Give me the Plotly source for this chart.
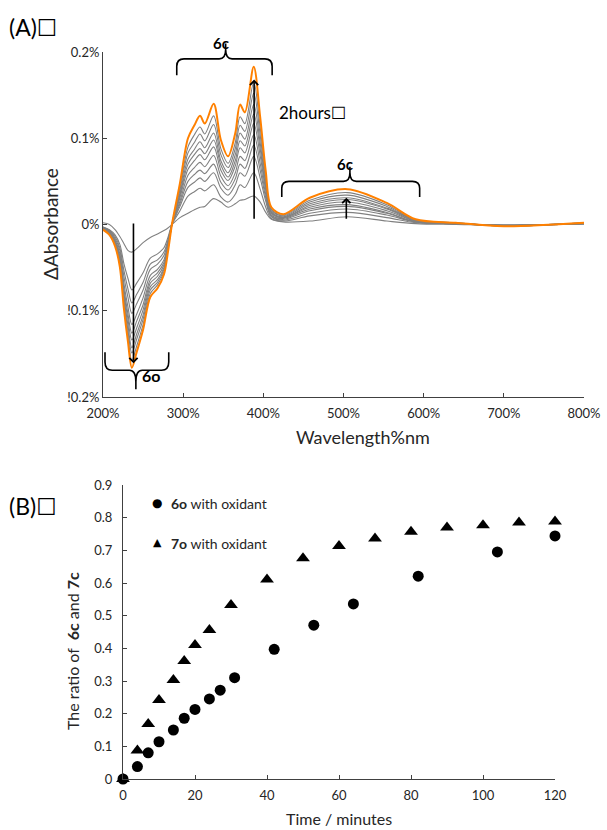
import plotly.graph_objects as go

W, H = 607, 830

# ---------------- Panel A data (difference spectra, 0 -> 2 h) ----------------
wavelength_nm = [200, 208, 215, 221, 226, 231, 236, 242, 250, 259, 268, 276, 281, 286,
                 296, 306, 314, 321, 327, 338, 347, 356, 365, 371, 377, 388, 396, 403,
                 410, 425, 458, 505, 554, 590, 640, 700, 800]

spectra_grey = [
    [0.002, 0.000, -0.006, -0.014, -0.022, -0.030, -0.032, -0.028, -0.021, -0.015, -0.011, -0.007, -0.004, 0.000,
     0.008, 0.013, 0.017, 0.020, 0.021, 0.030, 0.026, 0.020, 0.024, 0.028, 0.029, 0.033, 0.026, 0.014,
     0.006, 0.003, 0.004, 0.009, 0.004, 0.001, 0.000, -0.001, 0.001],
    [-0.003, -0.006, -0.012, -0.023, -0.045, -0.062, -0.076, -0.068, -0.056, -0.039, -0.034, -0.027, -0.015, 0.000,
     0.016, 0.033, 0.038, 0.042, 0.039, 0.046, 0.032, 0.026, 0.035, 0.046, 0.043, 0.060, 0.041, 0.020,
     0.007, 0.004, 0.010, 0.014, 0.008, 0.002, 0.001, -0.001, 0.001],
    [-0.003, -0.007, -0.014, -0.027, -0.053, -0.074, -0.091, -0.081, -0.067, -0.046, -0.041, -0.032, -0.018, 0.000,
     0.021, 0.043, 0.049, 0.054, 0.050, 0.060, 0.042, 0.034, 0.046, 0.060, 0.056, 0.079, 0.054, 0.027,
     0.009, 0.005, 0.013, 0.018, 0.011, 0.003, 0.001, -0.001, 0.001],
    [-0.004, -0.007, -0.016, -0.030, -0.060, -0.084, -0.103, -0.092, -0.076, -0.052, -0.046, -0.036, -0.020, 0.000,
     0.024, 0.050, 0.058, 0.063, 0.059, 0.070, 0.049, 0.040, 0.053, 0.070, 0.065, 0.092, 0.063, 0.031,
     0.010, 0.006, 0.016, 0.021, 0.013, 0.003, 0.001, -0.001, 0.001],
    [-0.004, -0.008, -0.018, -0.034, -0.068, -0.095, -0.116, -0.104, -0.085, -0.059, -0.052, -0.041, -0.022, 0.000,
     0.027, 0.057, 0.066, 0.072, 0.067, 0.080, 0.056, 0.045, 0.060, 0.079, 0.074, 0.104, 0.071, 0.035,
     0.011, 0.007, 0.018, 0.023, 0.014, 0.003, 0.001, -0.001, 0.001],
    [-0.005, -0.009, -0.019, -0.037, -0.074, -0.103, -0.126, -0.112, -0.093, -0.064, -0.056, -0.044, -0.024, 0.000,
     0.031, 0.064, 0.074, 0.081, 0.075, 0.090, 0.063, 0.051, 0.068, 0.089, 0.083, 0.117, 0.080, 0.040,
     0.013, 0.008, 0.020, 0.026, 0.016, 0.004, 0.001, -0.001, 0.001],
    [-0.005, -0.010, -0.020, -0.040, -0.079, -0.109, -0.134, -0.120, -0.099, -0.068, -0.060, -0.047, -0.026, 0.000,
     0.034, 0.070, 0.081, 0.088, 0.082, 0.098, 0.069, 0.055, 0.074, 0.097, 0.091, 0.128, 0.088, 0.043,
     0.014, 0.008, 0.022, 0.029, 0.018, 0.004, 0.001, -0.001, 0.001],
    [-0.005, -0.010, -0.022, -0.042, -0.083, -0.116, -0.143, -0.127, -0.105, -0.072, -0.064, -0.050, -0.028, 0.000,
     0.036, 0.076, 0.087, 0.096, 0.089, 0.106, 0.074, 0.060, 0.081, 0.106, 0.099, 0.139, 0.095, 0.047,
     0.015, 0.009, 0.024, 0.031, 0.019, 0.005, 0.002, -0.002, 0.002],
    [-0.005, -0.011, -0.023, -0.044, -0.087, -0.122, -0.149, -0.133, -0.110, -0.076, -0.067, -0.052, -0.029, 0.000,
     0.040, 0.083, 0.095, 0.105, 0.097, 0.116, 0.081, 0.066, 0.088, 0.115, 0.108, 0.152, 0.104, 0.051,
     0.017, 0.010, 0.026, 0.034, 0.021, 0.005, 0.002, -0.002, 0.002],
    [-0.006, -0.011, -0.024, -0.047, -0.092, -0.128, -0.158, -0.141, -0.116, -0.080, -0.070, -0.055, -0.030, 0.000,
     0.043, 0.090, 0.104, 0.113, 0.105, 0.126, 0.088, 0.071, 0.095, 0.125, 0.117, 0.165, 0.113, 0.056,
     0.018, 0.011, 0.028, 0.037, 0.023, 0.005, 0.002, -0.002, 0.002],
]

spectrum_2h = [-0.006, -0.012, -0.025, -0.049, -0.097, -0.135, -0.166, -0.148, -0.122, -0.084, -0.074, -0.058,
               -0.032, 0.000, 0.048, 0.100, 0.115, 0.126, 0.117, 0.140, 0.098, 0.079, 0.106, 0.139, 0.130,
               0.183, 0.125, 0.062, 0.020, 0.012, 0.031, 0.041, 0.025, 0.006, 0.002, -0.002, 0.002]

xA_tickvals = [200, 300, 400, 500, 600, 700, 800]
xA_ticktext = ["200%", "300%", "400%", "500%", "600%", "700%", "800%"]
yA_tickvals = [-0.2, -0.1, 0.0, 0.1, 0.2]
yA_ticktext = ["!0.2%", "!0.1%", "0%", "0.1%", "0.2%"]

# ---------------- Panel B data ----------------
time_6o = [0, 4, 7, 10, 14, 17, 20, 24, 27, 31, 42, 53, 64, 82, 104, 120]
ratio_6c = [0.0, 0.038, 0.080, 0.114, 0.150, 0.186, 0.213, 0.245, 0.272, 0.310, 0.397, 0.471, 0.536,
            0.621, 0.695, 0.744]
time_7o = [0, 4, 7, 10, 14, 17, 20, 24, 30, 40, 50, 60, 70, 80, 90, 100, 110, 120]
ratio_7c = [0.0, 0.087, 0.168, 0.242, 0.303, 0.361, 0.410, 0.456, 0.533, 0.611, 0.676, 0.713, 0.736,
            0.757, 0.770, 0.777, 0.785, 0.788]

xB_tickvals = [0, 20, 40, 60, 80, 100, 120]
yB_tickvals = [0, 0.1, 0.2, 0.3, 0.4, 0.5, 0.6, 0.7, 0.8, 0.9]
yB_ticktext = ["0", "0.1", "0.2", "0.3", "0.4", "0.5", "0.6", "0.7", "0.8", "0.9"]

for row in spectra_grey + [spectrum_2h]:
    assert len(row) == len(wavelength_nm)

# ---------------- helpers ----------------
FONT = "Lato, 'Open Sans', 'DejaVu Sans', sans-serif"
AX = "#404040"
TXT = "#262626"
YA_RANGE = [-0.2, 0.2]
BOX = '<span style="font-family:DejaVu Sans">\u2610</span>'


def px(x):
    return x / W


def py(y):
    return 1 - y / H


def ydom(v):
    return (v - YA_RANGE[0]) / (YA_RANGE[1] - YA_RANGE[0])


def brace(x0, x1, xm, v_end, v_line, v_tip, dx_end=9, dx_tip=8):
    ye, yl, yt = ydom(v_end), ydom(v_line), ydom(v_tip)
    se, st = ye - yl, yt - yl
    p = (f"M{x0},{ye} L{x0},{yl + 0.45 * se} Q{x0},{yl} {x0 + dx_end},{yl} "
         f"L{xm - dx_tip},{yl} Q{xm},{yl} {xm},{yl + 0.6 * st} L{xm},{yt} "
         f"L{xm},{yl + 0.6 * st} Q{xm},{yl} {xm + dx_tip},{yl} "
         f"L{x1 - dx_end},{yl} Q{x1},{yl} {x1},{yl + 0.45 * se} L{x1},{ye}")
    return dict(type="path", path=p, xref="x", yref="y domain",
                line=dict(color="black", width=1.6), layer="above")


def paper_text(x, y, text, size, color=TXT, xanchor="center", yanchor="middle", angle=0, family=None):
    f = dict(size=size, color=color)
    if family:
        f["family"] = family
    return dict(x=px(x), y=py(y), xref="paper", yref="paper", text=text, showarrow=False,
                xanchor=xanchor, yanchor=yanchor, textangle=angle, font=f)


fig = go.Figure()

for row in spectra_grey:
    fig.add_trace(go.Scatter(x=wavelength_nm, y=row, mode="lines",
                             line=dict(color="#808080", width=1.1, shape="spline", smoothing=0.9),
                             xaxis="x", yaxis="y", showlegend=False, hoverinfo="skip"))
fig.add_trace(go.Scatter(x=wavelength_nm, y=spectrum_2h, mode="lines",
                         line=dict(color="#ff8000", width=2, shape="spline", smoothing=0.9),
                         xaxis="x", yaxis="y", showlegend=False, hoverinfo="skip"))

fig.add_trace(go.Scatter(x=time_6o, y=ratio_6c, mode="markers",
                         marker=dict(symbol="circle", size=11, color="black"),
                         xaxis="x2", yaxis="y2", showlegend=False, cliponaxis=False))
fig.add_trace(go.Scatter(x=time_7o, y=ratio_7c, mode="markers",
                         marker=dict(symbol="triangle-up", size=12, color="black"),
                         xaxis="x2", yaxis="y2", showlegend=False, cliponaxis=False))

axis_common = dict(showline=True, linecolor=AX, linewidth=1, ticks="inside", ticklen=4,
                   tickcolor=AX, tickwidth=1, showgrid=False, zeroline=False, automargin=False,
                   tickfont=dict(family=FONT, size=13, color=TXT), fixedrange=True)

fig.update_layout(
    template="none",
    width=W, height=H, margin=dict(l=0, r=0, t=0, b=0, pad=0, autoexpand=False),
    paper_bgcolor="white", plot_bgcolor="white", showlegend=False,
    font=dict(family=FONT, color=TXT),
    xaxis=dict(domain=[px(103), px(584)], range=[200, 800], anchor="y", ticklabelstandoff=4,
               tickvals=xA_tickvals, ticktext=xA_ticktext, **axis_common),
    yaxis=dict(domain=[py(397), py(52)], range=YA_RANGE, anchor="x",
               tickvals=yA_tickvals, ticktext=yA_ticktext, **axis_common),
    xaxis2=dict(domain=[px(123), px(555)], range=[0, 120], anchor="y2", ticklabelstandoff=4,
                tickvals=xB_tickvals, **axis_common),
    yaxis2=dict(domain=[py(779), py(485)], range=[0, 0.9], anchor="x2", ticklabelstandoff=7,
                tickvals=yB_tickvals, ticktext=yB_ticktext, **axis_common),
)

# braces
fig.add_shape(brace(292, 411, 353, 0.173, 0.192, 0.210))
fig.add_shape(brace(423, 595, 508, 0.032, 0.050, 0.067))
fig.add_shape(brace(202.5, 282, 241, -0.148, -0.169, -0.191))

ann = []
# arrows
for (xa, y_tail, y_head) in [(238, 0.003, -0.161), (388.5, 0.005, 0.168), (503.5, 0.005, 0.031)]:
    ann.append(dict(x=xa, y=y_head, ax=xa, ay=y_tail, xref="x", yref="y", axref="x", ayref="y",
                    text="", showarrow=True, arrowhead=4, arrowsize=1.0, arrowwidth=1.6,
                    arrowcolor="black", standoff=0))

# brace labels
ann.append(dict(x=347, y=ydom(0.223), xref="x", yref="y domain", text="<b>6c</b>",
                showarrow=False, font=dict(size=15, color="black")))
ann.append(dict(x=502, y=ydom(0.083), xref="x", yref="y domain", text="<b>6c</b>",
                showarrow=False, font=dict(size=15, color="black")))
ann.append(dict(x=260, y=ydom(-0.188), xref="x", yref="y domain", text="<b>6o</b>",
                showarrow=False, font=dict(size=16, color="black")))
ann.append(dict(x=461, y=0.130, xref="x", yref="y", text="2hours" + BOX,
                showarrow=False, font=dict(size=17, color="black")))

# panel labels and axis titles
ann.append(paper_text(7, 27, "(A)" + BOX, 23, color="black", xanchor="left"))
ann.append(paper_text(7, 506, "(B)" + BOX, 23, color="black", xanchor="left"))
ann.append(paper_text(50, 224, "\u0394Absorbance", 19, angle=-90))
ann.append(paper_text(363, 437, "Wavelength%nm", 18))
ann.append(paper_text(72, 651, "The ratio of\u00a0 <b>6c</b> and <b>7c</b>", 16, angle=-90))
ann.append(paper_text(339, 818, "Time / minutes", 16))

# legend (panel B)
ann.append(paper_text(157, 503, "\u25cf", 12, color="black", family="DejaVu Sans"))
ann.append(paper_text(157, 542, "\u25b2", 11, color="black", family="DejaVu Sans"))
ann.append(paper_text(169, 503, "<b>6o</b> with oxidant", 14, xanchor="left"))
ann.append(paper_text(169, 543, "<b>7o</b> with oxidant", 14, xanchor="left"))

fig.update_layout(annotations=ann)

fig.write_html("out.html", config={"displayModeBar": False},
               post_script="document.body.style.margin='0';document.body.style.padding='0';"
                           "document.body.style.overflow='hidden';")
